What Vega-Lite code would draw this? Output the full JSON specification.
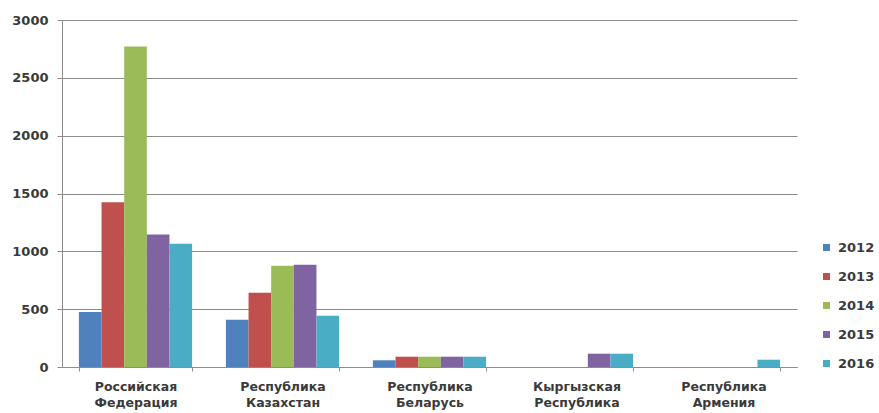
{
  "$schema": "https://vega.github.io/schema/vega-lite/v6.json",
  "width": 735,
  "height": 347,
  "autosize": {"type": "none"},
  "padding": {"left": 62, "top": 20, "right": 82, "bottom": 46},
  "background": "white",
  "config": {"view": {"stroke": null}, "font": "DejaVu Sans"},
  "data": {"values": [
    {"country": "Российская Федерация", "year": "2012", "value": 475},
    {"country": "Российская Федерация", "year": "2013", "value": 1425},
    {"country": "Российская Федерация", "year": "2014", "value": 2770},
    {"country": "Российская Федерация", "year": "2015", "value": 1145},
    {"country": "Российская Федерация", "year": "2016", "value": 1065},
    {"country": "Республика Казахстан", "year": "2012", "value": 408},
    {"country": "Республика Казахстан", "year": "2013", "value": 642},
    {"country": "Республика Казахстан", "year": "2014", "value": 876},
    {"country": "Республика Казахстан", "year": "2015", "value": 884},
    {"country": "Республика Казахстан", "year": "2016", "value": 443},
    {"country": "Республика Беларусь", "year": "2012", "value": 58},
    {"country": "Республика Беларусь", "year": "2013", "value": 89},
    {"country": "Республика Беларусь", "year": "2014", "value": 89},
    {"country": "Республика Беларусь", "year": "2015", "value": 89},
    {"country": "Республика Беларусь", "year": "2016", "value": 89},
    {"country": "Кыргызская Республика", "year": "2015", "value": 115},
    {"country": "Кыргызская Республика", "year": "2016", "value": 115},
    {"country": "Республика Армения", "year": "2016", "value": 63}
  ]},
  "mark": {"type": "bar"},
  "encoding": {
    "x": {
      "field": "country", "type": "nominal", "sort": null,
      "scale": {"paddingInner": 0.23, "paddingOuter": 0.115},
      "axis": {
        "title": null, "labelAngle": 0, "labelExpr": "split(datum.label, ' ')",
        "labelFontSize": 12.5, "labelFontWeight": "bold", "labelColor": "#3a3a3a", "labelLineHeight": 16,
        "labelPadding": 9, "tickBand": "extent", "tickSize": 4,
        "tickColor": "#8c8c8c", "domainColor": "#8c8c8c", "grid": false
      }
    },
    "xOffset": {"field": "year", "type": "nominal", "sort": ["2012", "2013", "2014", "2015", "2016"]},
    "y": {
      "field": "value", "type": "quantitative",
      "scale": {"domain": [0, 3000], "nice": false},
      "axis": {
        "title": null, "values": [0, 500, 1000, 1500, 2000, 2500, 3000], "format": "d",
        "labelFontSize": 13, "labelFontWeight": "bold", "labelColor": "#3a3a3a", "labelPadding": 9,
        "tickSize": 5, "tickColor": "#8c8c8c", "domainColor": "#8c8c8c",
        "gridColor": "#8c8c8c", "gridWidth": 1
      }
    },
    "color": {
      "field": "year", "type": "nominal",
      "scale": {"domain": ["2012", "2013", "2014", "2015", "2016"], "range": ["#4F81BD", "#C0504D", "#9BBB59", "#8064A2", "#4BACC6"]},
      "legend": {
        "title": null, "orient": "none", "legendX": 758, "legendY": 221,
        "symbolType": "square", "symbolSize": 49, "symbolStrokeWidth": 0,
        "labelFontSize": 13, "labelFontWeight": "bold", "labelColor": "#3a3a3a", "rowPadding": 15, "labelOffset": 5
      }
    }
  }
}
